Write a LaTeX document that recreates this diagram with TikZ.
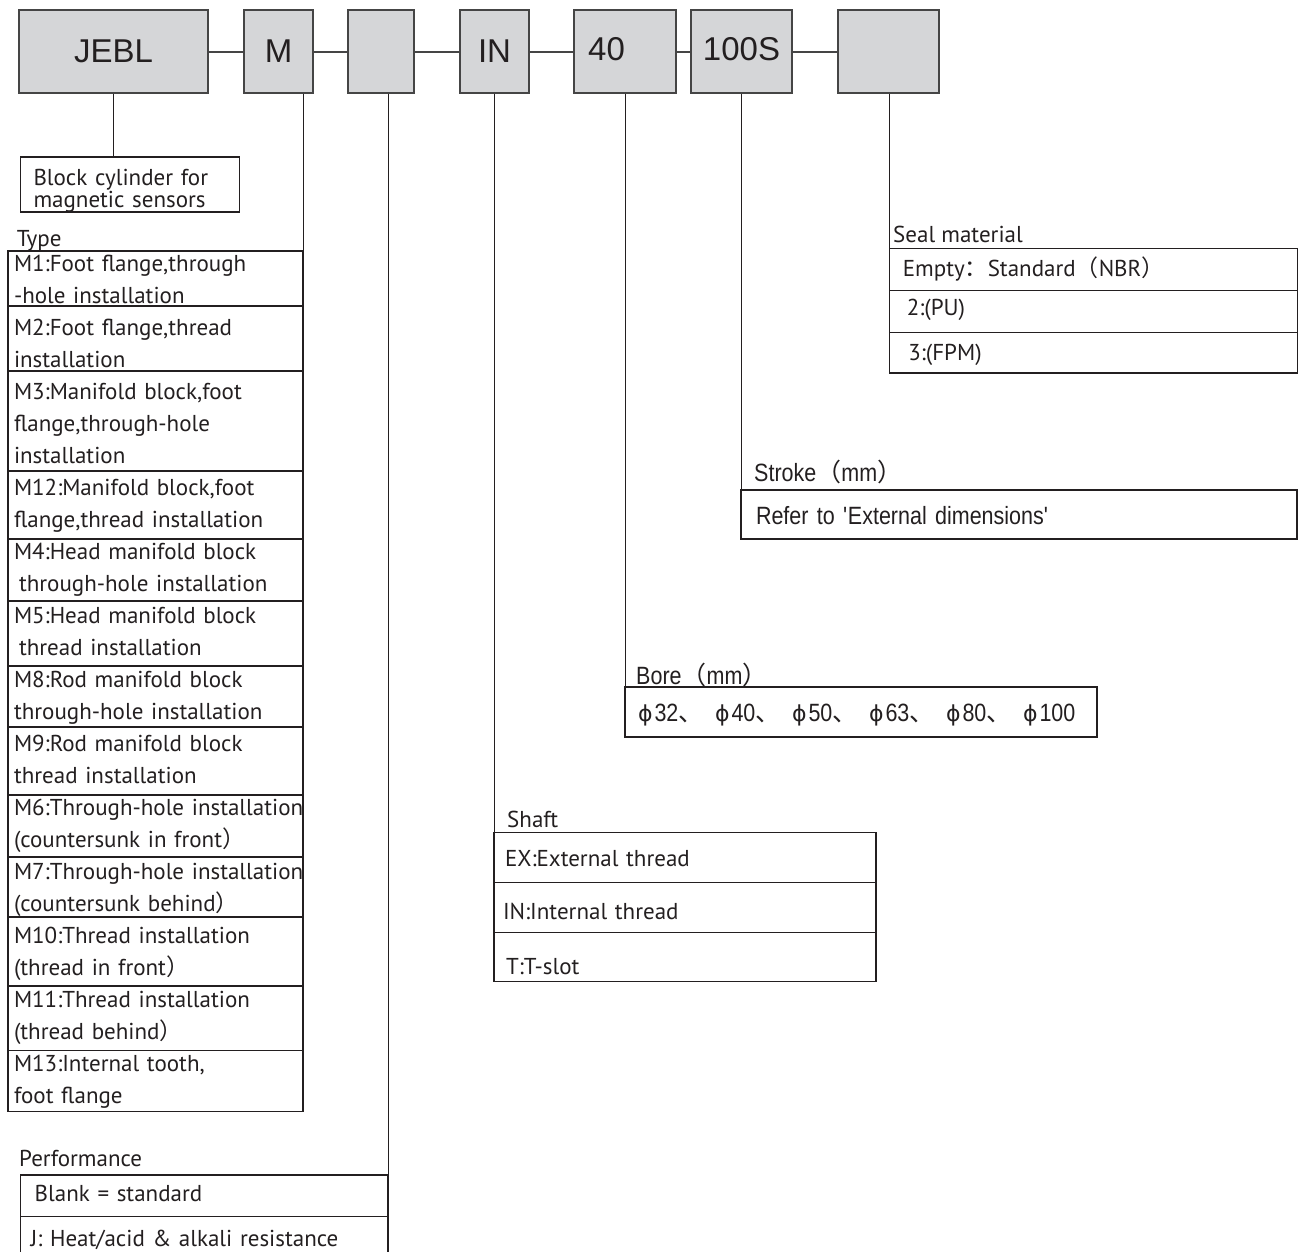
\documentclass[tikz,border=0pt]{standalone}
\usepackage{fontspec}
\setmainfont{PT Sans}
\newfontfamily\codefont{Liberation Sans}
\newfontfamily\narrowfont[FakeStretch=0.86]{Liberation Sans}
\newfontfamily\cjk{Noto Sans CJK SC}
\newfontfamily\symfont{DejaVu Sans}
\usetikzlibrary{positioning}

\definecolor{boxfill}{HTML}{D5D6D8}
\definecolor{boxline}{HTML}{454545}
\definecolor{inkc}{HTML}{231F20}

\newcommand{\fwl}{{\cjk （}}
\newcommand{\fwr}{{\cjk ）}}
\newcommand{\fwc}{{\cjk ：}}
\newcommand{\boresep}{{\cjk 、}}
\newcommand{\borecell}[1]{\makebox[77pt][l]{{\symfont\fontsize{22}{22}\selectfont ϕ}\hspace{2pt}#1}}

\begin{document}
\begin{tikzpicture}[x=1pt, y=-1pt,
    code/.style={draw=boxline, fill=boxfill, line width=1.4pt, minimum height=83pt,
      inner sep=0pt, font=\codefont\fontsize{33}{33}\selectfont, text=inkc},
    link/.style={draw=boxline, line width=2pt},
    lead/.style={draw=inkc, line width=1pt},
    row/.style={draw=inkc, line width=1.2pt, anchor=north west, inner sep=0pt, outer sep=0pt,
      align=left, font=\fontsize{23}{32}\selectfont, text=inkc},
    typerow/.style={row, inner xsep=6pt, text width=283pt},
    caption/.style={inner sep=0pt, anchor=base west, font=\fontsize{23}{23}\selectfont, text=inkc},
    narrow/.style={font=\narrowfont\fontsize{25}{25}\selectfont}]

  \useasboundingbox (0,0) rectangle (1300,1251);

  % code boxes
  \node[code, minimum width=189pt] (jebl) at (113.5,51.5) {JEBL};
  \node[code, minimum width=69pt] (typecode) at (278.5,51.5) {M};
  \node[code, minimum width=66pt] (perfcode) at (381,51.5) {};
  \node[code, minimum width=69pt] (shaftcode) at (494.5,51.5) {IN};
  \node[code, minimum width=102pt] (borecode) at (625,51.5) {\raisebox{4.5pt}{40}\hspace*{37pt}};
  \node[code, minimum width=101pt] (strokecode) at (741.5,51.5) {\raisebox{4.5pt}{100S}};
  \node[code, minimum width=101pt] (sealcode) at (888.5,51.5) {};

  \draw[link] (jebl) -- (typecode);
  \draw[link] (typecode) -- (perfcode);
  \draw[link] (perfcode) -- (shaftcode);
  \draw[link] (shaftcode) -- (borecode);
  \draw[link] (borecode) -- (strokecode);
  \draw[link] (strokecode) -- (sealcode);

  % series
  \node[row, text width=193pt, inner xsep=13pt, text height=28pt, text depth=27pt,
    font=\fontsize{23}{20}\selectfont] (blockdesc) at (20.5,157)
    {\lineskiplimit=-50pt Block cylinder for\\magnetic sensors};

  % type
  \node[typerow, text height=20.5pt, text depth=34.5pt] (type1) at (8,251)
    {M1:Foot flange,through\\-hole installation};
  \node[typerow, text height=29.5pt, text depth=35.5pt] (type2) at (type1.south west)
    {M2:Foot flange,thread\\installation};
  \node[typerow, text height=28.5pt, text depth=71.5pt] (type3) at (type2.south west)
    {M3:Manifold block,foot\\flange,through-hole\\installation};
  \node[typerow, text height=24.5pt, text depth=43.5pt] (type4) at (type3.south west)
    {M12:Manifold block,foot\\flange,thread installation};
  \node[typerow, text height=20.5pt, text depth=41.5pt] (type5) at (type4.south west)
    {M4:Head manifold block\\\hspace*{5pt}through-hole installation};
  \node[typerow, text height=22.5pt, text depth=42.5pt] (type6) at (type5.south west)
    {M5:Head manifold block\\\hspace*{5pt}thread installation};
  \node[typerow, text height=21.5pt, text depth=39.5pt] (type7) at (type6.south west)
    {M8:Rod manifold block\\through-hole installation};
  \node[typerow, text height=24.5pt, text depth=43.5pt] (type8) at (type7.south west)
    {M9:Rod manifold block\\thread installation};
  \node[typerow, text height=20.5pt, text depth=41.5pt] (type9) at (type8.south west)
    {\mbox{M6:Through-hole installation}\\(countersunk in front\fwr};
  \node[typerow, text height=22.5pt, text depth=37.5pt] (type10) at (type9.south west)
    {\mbox{M7:Through-hole installation}\\(countersunk behind\fwr};
  \node[typerow, text height=26.5pt, text depth=42.5pt] (type11) at (type10.south west)
    {M10:Thread installation\\(thread in front\fwr};
  \node[typerow, text height=21.5pt, text depth=43pt] (type12) at (type11.south west)
    {M11:Thread installation\\(thread behind\fwr};
  \node[typerow, text height=21pt, text depth=40pt] (type13) at (type12.south west)
    {M13:Internal tooth,\\foot flange};
  \node[above right=5pt and 8.7pt of type1.north west, caption] {Type};

  % performance
  \node[row, text width=367.3pt, text height=26pt, text depth=15.7pt] (perf1) at (20.7,1175)
    {\hspace*{14pt}Blank = standard};
  \node[row, text width=367.3pt, text height=30pt, text depth=15.3pt] (perf2) at (perf1.south west)
    {\hspace*{10pt}J: Heat/acid \& alkali resistance};
  \node[above right=8.3pt and -1.7pt of perf1.north west, caption] {Performance};

  % shaft
  \node[row, text width=382pt, text height=34.4pt, text depth=15.6pt] (shaft1) at (494,832.3)
    {\hspace*{11pt}EX:External thread};
  \node[row, text width=382pt, text height=36.7pt, text depth=13.3pt] (shaft2) at (shaft1.south west)
    {\hspace*{9pt}IN:Internal thread};
  \node[row, text width=382pt, text height=42pt, text depth=7.4pt] (shaft3) at (shaft2.south west)
    {\hspace*{12pt}T:T-slot};
  \node[above right=5pt and 13pt of shaft1.north west, caption] {Shaft};

  % bore
  \node[row, narrow, text width=472pt, text height=34.5pt, text depth=15.5pt] (bore1) at (625,687)
    {\hspace*{13pt}\borecell{32\boresep}\borecell{40\boresep}\borecell{50\boresep}\borecell{63\boresep}\borecell{80\boresep}{\symfont\fontsize{22}{22}\selectfont ϕ}\hspace{2pt}100};
  \node[above right=3pt and 11pt of bore1.north west, caption, narrow] {Bore\fwl mm\fwr};

  % stroke
  \node[row, narrow, text width=556pt, text height=34pt, text depth=15pt] (stroke1) at (741,490)
    {\hspace*{15pt}Refer to \textquotesingle External dimensions\textquotesingle};
  \node[above right=8.3pt and 13pt of stroke1.north west, caption, narrow] {Stroke\fwl mm\fwr};

  % seal
  \node[row, text width=408pt, text height=27.5pt, text depth=14.7pt] (seal1) at (889.3,248.5)
    {\hspace*{13.5pt}Empty\fwc Standard\fwl NBR\fwr};
  \node[row, text width=408pt, text height=24.3pt, text depth=17.7pt] (seal2) at (seal1.south west)
    {\hspace*{17.5pt}2:(PU)};
  \node[row, text width=408pt, text height=27.3pt, text depth=13pt] (seal3) at (seal2.south west)
    {\hspace*{19pt}3:(FPM)};
  \node[above right=6.5pt and 3.7pt of seal1.north west, caption] {Seal material};

  % leaders
  \draw[lead] (jebl.south) -- (jebl.south |- blockdesc.north);
  \draw[lead] (typecode.south -| type1.north east) -- (type1.north east);
  \draw[lead] (perfcode.south -| perf1.north east) -- (perf1.north east);
  \draw[lead] (shaftcode.south -| shaft1.north west) -- (shaft1.north west);
  \draw[lead] (borecode.south -| bore1.north west) -- (bore1.north west);
  \draw[lead] (strokecode.south -| stroke1.north west) -- (stroke1.north west);
  \draw[lead] (sealcode.south -| seal1.north west) -- (seal1.north west);
\end{tikzpicture}
\end{document}
